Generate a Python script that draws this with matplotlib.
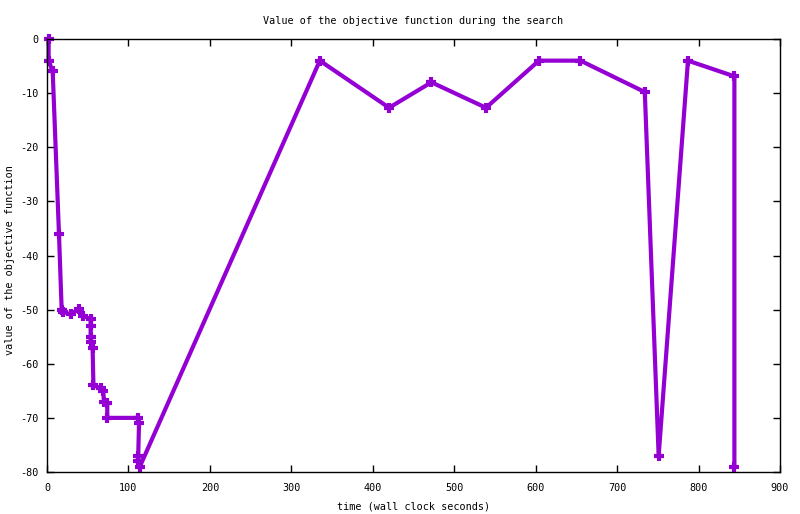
import matplotlib
matplotlib.use('Agg')
import matplotlib.pyplot as plt

plt.rcParams['font.family'] = ['DejaVu Sans Mono']
plt.rcParams['axes.unicode_minus'] = False

# search trace: wall clock seconds vs objective value
time_s = [2, 2, 7, 14.7, 18, 20, 29, 39, 44.5, 53.6, 53.6, 53.6, 53.6, 56,
          57, 66, 69, 70, 74, 74, 112, 113, 112, 112, 114,
          335, 420, 472, 539, 604, 655, 734, 751, 787, 844, 844]
objective = [0, -4, -6, -36, -50, -50.4, -50.9, -49.9, -51.1, -51.8, -53, -55, -56, -57,
             -64, -64.5, -65, -67, -67.3, -70, -70, -71, -77, -78, -79,
             -4, -12.7, -8, -12.7, -4, -4, -9.8, -77, -4, -6.9, -79]

xticks = [0, 100, 200, 300, 400, 500, 600, 700, 800, 900]
yticks = [0, -10, -20, -30, -40, -50, -60, -70, -80]

fig = plt.figure(figsize=(8, 5.14), dpi=100)
ax = fig.add_axes([47 / 800, 42 / 514, 733 / 800, 433 / 514])

ax.plot(time_s, objective, color='#9400d3', linewidth=3.0, marker='+',
        markersize=7.5, markeredgewidth=3.0, clip_on=False)

ax.set_xlim(0, 900)
ax.set_ylim(-80, 0)
ax.set_xticks(xticks)
ax.set_yticks(yticks)
ax.tick_params(direction='in', length=5, width=1, top=True, right=True,
               labelsize=7.3)
ax.tick_params(axis='x', pad=8)
ax.tick_params(axis='y', pad=6)
for s in ax.spines.values():
    s.set_linewidth(1)

ax.set_title('Value of the objective function during the search', fontsize=7.3, pad=11)
ax.set_xlabel('time (wall clock seconds)', fontsize=7.3, labelpad=6)
ax.set_ylabel('value of the objective function', fontsize=7.3)
ax.yaxis.set_label_coords(-0.044, 0.49)

fig.savefig('out.png', dpi=100)
